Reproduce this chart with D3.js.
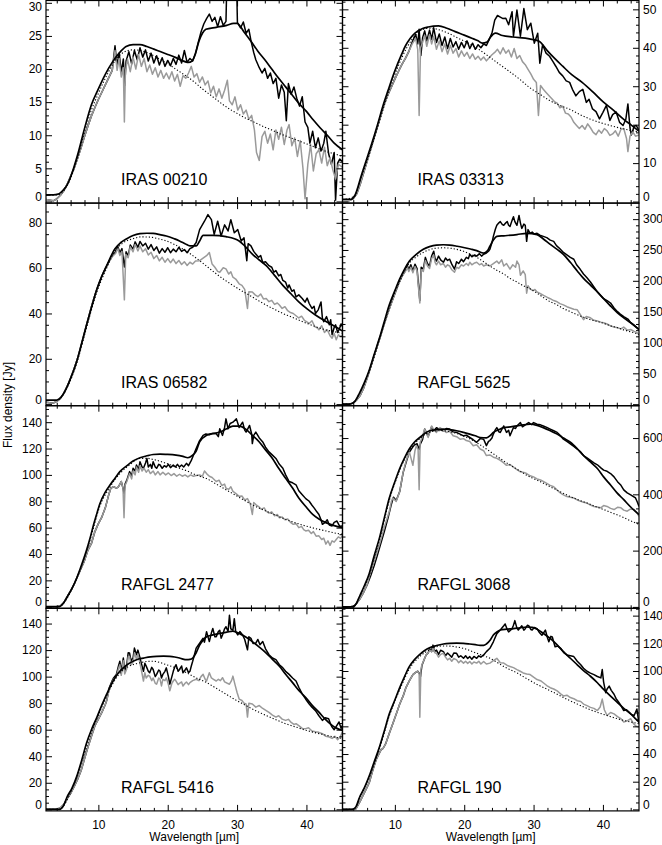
<!DOCTYPE html>
<html><head><meta charset="utf-8">
<script src="https://cdn.jsdelivr.net/npm/d3@7"></script>
<style>
body{margin:0;background:#fff}
svg text{font-family:"Liberation Sans",Arial,Helvetica,sans-serif;fill:#000}
</style></head><body>
<svg id="c" width="662" height="845"></svg>
<script>
// ---------------- DATA ----------------
const names = ["IRAS 00210","IRAS 03313","IRAS 06582","RAFGL 5625","RAFGL 2477","RAFGL 3068","RAFGL 5416","RAFGL 190"];
const xTicks = [10,20,30,40];
const yTicks1 = [0,5,10,15,20,25,30];
const yTicks2 = [0,10,20,30,40,50];
const yTicks3 = [0,20,40,60,80];
const yTicks4 = [0,50,100,150,200,250,300];
const yTicks5 = [0,20,40,60,80,100,120,140];
const yTicks6 = [0,200,400,600];
const yTicks7 = [0,20,40,60,80,100,120,140];
const yTicks8 = [0,20,40,60,80,100,120,140];

// ---- IRAS 00210 ----
const obs1 = [[2.45,0.3],[3,0.2],[3.5,0.1],[4,0.4],[4.5,0.9],[5,1.6],[5.5,2.6],[6,3.8],[6.5,5.0],[7,6.5],[7.5,8.1],[8,9.8],[8.5,11.4],[9,12.9],[9.5,14.2],[10,15.4],[10.5,16.5],[11,17.6],[11.5,18.7],[12,19.8],[12.4,23.5],[12.7,20.5],[13,22.4],[13.3,19.5],[13.6,21.5],[13.8,17.5],[14,21.2],[14.4,22.6],[14.8,20.8],[15.2,22.8],[15.6,21.4],[16,23.2],[16.4,21.8],[16.8,22.9],[17.2,21.2],[17.6,22.4],[18,20.9],[18.4,22.0],[18.8,20.6],[19.2,21.7],[19.6,20.4],[20,21.3],[20.4,20.5],[20.8,21.6],[21.2,20.7],[21.6,22.1],[22,20.9],[22.4,22.8],[22.8,21.0],[23.2,21.6],[23.6,21.2],[24,22.4],[24.4,24.0],[24.8,25.6],[25.2,26.8],[25.6,27.6],[26,28.3],[26.4,27.2],[26.8,27.8],[27.2,26.4],[27.6,27.9],[28,26.6],[28.4,27.2],[28.5,32],[29.95,32],[30.05,27.0],[30.5,26.2],[30.9,27.1],[31.3,25.4],[31.7,26.0],[32,24.3],[32.4,22.5],[32.7,21.4],[33.2,20.2],[33.6,19.4],[34,20.1],[34.4,18.6],[34.8,19.4],[35.2,17.8],[35.6,18.6],[36,15.6],[36.4,17.6],[36.8,16.5],[37.1,12.2],[37.4,17.8],[37.8,16.2],[38.2,17.3],[38.6,15.6],[39,14.4],[39.4,15.8],[39.8,12.0],[40.2,11.2],[40.5,8.8],[40.9,10.6],[41.3,8.1],[41.7,9.6],[42.1,7.6],[42.5,8.8],[42.8,10.6],[43.2,7.2],[43.6,5.6],[44,7.4],[44.2,0.2],[44.5,5.8],[44.8,6.4],[45.2,6.0]];
const sub1 = [[2.45,0.3],[3,0.2],[3.5,0.1],[4,0.4],[4.5,0.9],[5,1.6],[5.5,2.6],[6,3.8],[6.5,5.0],[7,6.5],[7.5,8.1],[8,9.8],[8.5,11.4],[9,12.9],[9.5,14.2],[10,15.4],[10.5,16.5],[11,17.6],[11.5,18.7],[12,19.8],[12.4,22.8],[12.7,19.8],[13,21.6],[13.3,18.8],[13.6,20.2],[13.75,12.0],[13.9,19.6],[14.2,21.5],[14.6,19.6],[15,21.8],[15.4,20.0],[15.8,22.2],[16.2,20.4],[16.6,21.6],[17,19.6],[17.4,20.6],[17.8,19.2],[18.2,20.2],[18.6,18.8],[19,19.8],[19.4,18.6],[19.8,19.4],[20.2,18.5],[20.6,19.6],[21,18.2],[21.4,19.2],[21.8,17.4],[22.2,19.0],[22.6,18.6],[23,19.4],[23.4,20.4],[23.8,18.8],[24.2,19.3],[24.6,18.0],[25,18.8],[25.4,17.6],[25.8,18.2],[26.2,16.4],[26.6,17.4],[27,15.8],[27.4,17.0],[27.8,15.6],[28.2,16.8],[28.6,18.3],[28.9,15.2],[29.3,14.6],[29.7,15.8],[30.1,13.8],[30.5,14.6],[30.9,13.2],[31.3,13.8],[31.7,12.4],[32.1,13.0],[32.5,10.8],[32.8,7.4],[33.2,6.2],[33.6,9.8],[34,10.6],[34.4,8.8],[34.8,10.2],[35.2,7.8],[35.6,10.8],[36,9.4],[36.4,11.2],[36.8,8.6],[37.2,10.8],[37.5,11.6],[37.9,8.4],[38.3,9.6],[38.7,6.8],[39.1,9.2],[39.5,5.0],[39.8,0.4],[40.2,5.6],[40.6,8.6],[41,4.6],[41.4,7.2],[41.8,7.8],[42.2,5.8],[42.6,8.2],[43,5.4],[43.4,6.6],[43.8,4.8],[44.2,3.4],[44.6,5.6],[45.2,5.2]];
const model1 = [[2.45,1.0],[3.5,1.0],[4.2,1.1],[5,1.8],[5.5,2.5],[6,3.7],[7,7.0],[8,11.0],[9,14.6],[10,17.0],[11,19.2],[12,21.0],[13,22.4],[14,23.4],[15,23.7],[16,23.7],[17,23.4],[18,23.0],[19,22.6],[20,22.2],[21,21.8],[22,21.3],[23,21.0],[23.5,21.2],[24,22.3],[24.5,24.2],[25,25.4],[25.5,26.0],[27,26.3],[28.5,26.6],[29.5,26.9],[30,26.9],[31,25.6],[32,24.2],[33,22.7],[34,21.4],[35,20.0],[36,18.6],[37,17.3],[38,16.0],[39,14.7],[40,13.6],[41,12.3],[42,11.1],[43,10.0],[44,8.8],[45.2,7.8]];
const cont1 = [[2.45,0.9],[4.2,1.0],[5,1.6],[6,3.5],[7,6.6],[8,10.4],[9,13.8],[10,16.3],[11,18.6],[12,20.6],[13,22.0],[14,22.7],[15,22.9],[16,22.8],[17,22.5],[18,22.0],[19,21.4],[20,20.8],[21,20.1],[22,19.4],[23,18.7],[24,17.9],[25,17.0],[26,16.2],[27,15.4],[28,14.6],[29,13.9],[30,13.3],[31,12.7],[32,12.2],[33,11.7],[34,11.2],[35,10.8],[36,10.3],[37,9.9],[38,9.5],[39,9.1],[40,8.7],[41,8.3],[42,7.9],[43,7.5],[44,7.2],[45.2,6.8]];

// ---- IRAS 03313 ----
const obs2 = [[2.45,0.3],[3,0.2],[3.5,0.3],[4,0.8],[4.5,2.0],[5,4.5],[5.5,7.5],[6,10.5],[6.5,13.5],[7,16.5],[7.5,19.5],[8,22.5],[8.5,25.5],[9,27.8],[9.5,29.8],[10,31.8],[10.5,33.8],[11,35.6],[11.5,37.2],[12,39.0],[12.5,41.5],[13,43.5],[13.3,41.0],[13.5,44.8],[13.75,38],[14,42.6],[14.3,44.4],[14.6,41.8],[15,44.6],[15.3,42.2],[15.6,45.2],[16,41.4],[16.4,43.6],[16.8,40.6],[17.2,42.8],[17.6,39.8],[18,42.4],[18.4,40.2],[18.8,41.6],[19.2,39.6],[19.6,41.4],[20,40.0],[20.4,41.8],[20.8,39.8],[21.2,41.2],[21.6,39.6],[22,40.8],[22.4,40.0],[22.8,41.0],[23.2,40.6],[23.6,42.2],[24,43.8],[24.4,47.2],[24.8,48.4],[25.2,48.0],[25.6,47.6],[26,47.7],[26.4,46.0],[26.9,49.4],[27.1,43.0],[27.6,49.8],[28.1,43.0],[28.6,50.2],[29.1,44.7],[29.6,46.4],[30.1,41.2],[30.6,43.8],[30.9,36.0],[31.3,40.8],[31.8,38.6],[32.3,37.8],[32.8,36.4],[33.2,35.2],[33.7,33.6],[34.2,32.7],[34.7,31.4],[35.2,31.0],[35.6,29.2],[36.1,27.5],[36.6,28.6],[37.1,29.2],[37.6,25.8],[38,26.6],[38.5,24.1],[39,23.4],[39.5,21.5],[40,23.2],[40.5,25.0],[41,21.1],[41.4,22.6],[41.9,23.3],[42.4,20.6],[42.9,19.8],[43.3,21.4],[43.6,25.4],[43.9,19.2],[44.1,17.3],[44.5,19.6],[44.8,19.8],[45.2,18.5]];
const sub2 = [[2.45,0.3],[3,0.2],[3.5,0.3],[4,0.8],[4.5,2.0],[5,4.5],[5.5,7.5],[6,10.5],[6.5,13.5],[7,16.5],[7.5,19.5],[8,22.5],[8.5,25.5],[9,27.8],[9.5,29.8],[10,31.8],[10.5,33.8],[11,35.6],[11.5,37.2],[12,39.0],[12.5,41.0],[13,42.4],[13.3,39.5],[13.5,22.4],[13.7,40.0],[14,41.4],[14.3,43.2],[14.6,40.4],[15,43.4],[15.3,41.0],[15.6,43.0],[16,39.6],[16.4,41.8],[16.8,39.0],[17.2,41.0],[17.6,38.4],[18,40.6],[18.4,38.6],[18.8,39.8],[19.2,37.6],[19.6,39.2],[20,37.8],[20.4,38.8],[20.8,37.2],[21.2,38.4],[21.6,37.0],[22,37.8],[22.4,36.8],[22.8,37.6],[23.2,36.6],[23.6,37.4],[24,38.2],[24.4,38.8],[24.8,39.6],[25.2,38.4],[25.6,40.0],[26,38.6],[26.4,39.4],[26.8,37.6],[27.2,39.8],[27.6,37.2],[28,38.0],[28.4,36.4],[28.8,35.6],[29.2,34.4],[29.6,33.2],[30,31.8],[30.4,31.0],[30.7,22.4],[31,30.2],[31.4,29.2],[31.8,28.4],[32.2,27.6],[32.6,26.8],[33,26.0],[33.4,25.6],[33.8,24.4],[34.2,24.8],[34.6,23.0],[35,22.8],[35.4,22.0],[35.8,20.6],[36.2,19.8],[36.6,19.0],[37,19.8],[37.4,18.8],[37.8,20.2],[38.2,19.2],[38.6,18.0],[39,17.4],[39.4,18.6],[39.8,17.8],[40.2,19.0],[40.6,18.4],[41,17.2],[41.4,17.6],[41.8,18.4],[42.2,17.0],[42.6,18.8],[43,19.0],[43.4,16.4],[43.6,13.0],[43.9,17.0],[44.3,18.1],[44.7,17.0],[45.2,17.3]];
const model2 = [[2.45,0.6],[3.7,0.6],[4.2,1.5],[5.2,7.0],[6,11.4],[6.6,14.7],[7.5,20.0],[8.3,25.0],[9,28.8],[10,34.0],[11,38.4],[11.5,40.4],[12.2,42.4],[12.9,43.8],[14,45.0],[14.8,45.4],[16.3,45.7],[17.5,45.1],[18.7,44.2],[20,43.3],[21.1,42.5],[22,41.8],[22.6,41.2],[23.3,41.5],[23.8,42.8],[24.5,43.8],[25.5,43.2],[27,42.8],[29.4,42.3],[30.8,41.7],[32,39.2],[33,37.3],[34.2,35.2],[35.5,33.0],[37,31.0],[38.5,28.6],[40,26.0],[41.5,23.8],[43,21.4],[44,20.0],[45.2,18.3]];
const cont2 = [[2.45,0.5],[4.2,1.4],[5.2,6.6],[6.6,14.0],[8.3,24.0],[10,33.0],[11,37.4],[12.4,42.0],[13.5,44.2],[14.5,45.0],[15.3,45.1],[16.5,44.6],[17.7,43.8],[19,42.6],[20.6,41.2],[22,39.7],[23.5,37.8],[25,35.8],[26.4,34.0],[28,31.8],[29.4,29.7],[31,27.8],[32.3,26.3],[33.8,25.0],[35.2,24.0],[36.6,22.7],[38.1,21.5],[39.5,20.6],[41,19.8],[42.5,19.1],[44,18.5],[45.2,18.1]];

// ---- IRAS 06582 ----
const obs3 = [[2.45,0.8],[3,0.6],[3.5,0.5],[4,1.2],[4.5,2.4],[5,4.6],[5.5,7.8],[6,11.4],[6.5,15.6],[7,20.2],[7.5,25.6],[8,31.4],[8.5,37.2],[9,43.0],[9.5,48.0],[10,52.4],[10.5,56.4],[11,59.8],[11.5,62.8],[12,65.4],[12.5,67.2],[12.8,69.6],[13.1,66.8],[13.4,68.6],[13.75,60.5],[14,67.2],[14.3,65.4],[14.6,70.2],[15,68.4],[15.3,71.6],[15.7,69.2],[16,71.8],[16.4,69.8],[16.8,71.0],[17.2,68.4],[17.6,70.4],[18,67.8],[18.4,69.4],[18.8,66.6],[19.2,68.6],[19.6,67.0],[20,69.0],[20.4,66.8],[20.8,68.4],[21.2,67.2],[21.6,69.2],[22,67.4],[22.4,68.2],[22.8,66.8],[23.2,68.6],[23.6,69.2],[24.1,71.3],[24.6,77.0],[25.3,80.7],[25.8,83.6],[26.3,81.4],[26.7,74.9],[27.2,80.7],[27.7,74.2],[28.2,79.1],[28.7,76.4],[29.1,81.4],[29.6,75.6],[30.1,77.0],[30.6,72.0],[31,73.4],[31.4,63.3],[31.6,70.8],[32,69.8],[32.4,67.4],[32.7,66.2],[33.1,64.8],[33.4,65.6],[33.7,62.5],[34.1,62.8],[34.6,61.1],[35,60.4],[35.3,58.2],[35.6,58.9],[36,56.6],[36.3,57.2],[36.6,54.6],[37,53.8],[37.3,51.2],[37.5,52.6],[37.9,49.8],[38.2,50.4],[38.5,47.3],[38.9,48.2],[39.4,46.6],[39.8,45.0],[40.1,46.8],[40.4,44.4],[40.8,42.2],[41.1,43.2],[41.3,40.0],[41.7,41.6],[42.1,45.1],[42.3,38.0],[42.5,36.4],[42.9,38.6],[43.3,35.0],[43.5,37.2],[43.7,30.6],[44,33.8],[44.2,35.0],[44.5,31.6],[44.7,32.8],[45,35.4],[45.2,34.2]];
const sub3 = [[2.45,0.8],[3,0.6],[3.5,0.5],[4,1.2],[4.5,2.4],[5,4.6],[5.5,7.8],[6,11.4],[6.5,15.6],[7,20.2],[7.5,25.6],[8,31.4],[8.5,37.2],[9,43.0],[9.5,48.0],[10,52.4],[10.5,56.4],[11,59.8],[11.5,62.8],[12,65.0],[12.5,66.6],[12.8,68.8],[13.1,65.6],[13.4,67.4],[13.75,46.0],[13.95,66.0],[14.3,64.6],[14.6,69.4],[15,67.2],[15.3,70.4],[15.7,67.6],[16,69.8],[16.4,67.2],[16.8,68.6],[17.2,65.8],[17.6,67.0],[18,64.2],[18.4,65.6],[18.8,63.2],[19.2,64.8],[19.6,62.6],[20,64.2],[20.4,62.4],[20.8,64.0],[21.2,62.0],[21.6,63.4],[22,61.6],[22.4,62.8],[22.8,61.2],[23.2,62.6],[23.6,61.8],[24,63.2],[24.6,63.3],[25.1,64.4],[25.6,65.5],[26,66.9],[26.4,61.8],[26.8,60.4],[27.2,58.6],[27.5,58.2],[28,60.2],[28.4,59.7],[28.8,57.4],[29.1,58.4],[29.4,56.0],[29.8,55.2],[30.3,53.1],[30.7,52.4],[31.1,50.6],[31.5,42.2],[31.7,49.6],[32.2,49.5],[32.6,48.2],[33,47.4],[33.4,48.6],[33.8,46.4],[34.2,46.6],[34.6,45.2],[35,45.8],[35.4,44.0],[35.8,44.6],[36.1,43.7],[36.5,42.2],[36.9,43.0],[37.3,41.2],[37.7,40.4],[38.1,40.0],[38.5,39.0],[38.9,38.0],[39.3,38.8],[39.7,37.0],[40,36.4],[40.4,35.6],[40.8,36.8],[41.2,34.2],[41.6,33.6],[41.8,32.8],[42.2,34.6],[42.6,31.6],[43,32.8],[43.4,30.2],[43.7,29.1],[44,31.2],[44.3,28.4],[44.6,30.6],[45,29.8],[45.2,30.6]];
const model3 = [[2.45,1.8],[4.0,1.8],[4.6,3.0],[5.45,7.4],[6.2,13.0],[6.9,19.0],[7.6,27.0],[8.3,35.0],[9,42.6],[9.8,50.9],[10.5,56.5],[11.2,61.1],[12.4,68.6],[13.2,71.2],[14.1,73.0],[15,74.4],[16,75.2],[17,75.4],[17.9,75.3],[19,74.7],[19.8,74.2],[21,72.9],[21.7,72.0],[22.5,70.8],[23.2,69.8],[24.1,69.8],[24.6,72.0],[25.1,74.5],[26.5,74.5],[28.4,73.9],[30.3,72.0],[31.2,69.5],[32.2,66.2],[33.2,63.6],[34.2,61.1],[35.4,56.8],[36.6,52.4],[37.8,48.6],[38.9,45.1],[40.1,42.0],[41.3,39.3],[42.5,37.0],[43.7,35.0],[45.2,32.2]];
const cont3 = [[2.45,1.6],[4.0,1.6],[4.6,2.8],[5.45,7.0],[6.9,18.2],[8.3,33.8],[9.8,49.6],[11.2,60.0],[12.4,67.6],[13.5,71.0],[15,73.0],[16.2,73.8],[17.4,73.7],[18.6,73.0],[19.8,72.0],[21,70.4],[22.2,68.4],[23.4,66.0],[24.6,63.3],[25.8,60.4],[27,57.5],[28.2,54.8],[29.4,52.4],[30.6,50.1],[31.8,48.0],[33,45.8],[34.2,43.7],[35.4,41.8],[36.6,40.0],[37.8,38.5],[38.9,37.1],[40.1,35.6],[41.3,34.2],[42.6,32.9],[43.9,32.0],[45.2,31.3]];

// ---- RAFGL 5625 ----
const obs4 = [[2.45,0],[3,0],[3.5,0.5],[4,2],[4.5,7],[5,14],[5.5,26],[6,42],[6.5,60],[7,78],[7.5,96],[8,113],[8.5,131],[9,148],[9.5,164],[10,179],[10.5,194],[11,207],[11.5,216],[11.8,225],[12,218],[12.3,226],[12.6,216],[12.9,227],[13.2,220],[13.6,168],[13.8,222],[14.1,219],[14.4,238],[14.7,228],[15,224],[15.3,240],[15.6,248],[15.8,236],[16,232],[16.3,240],[16.6,234],[17,230],[17.3,237],[17.6,233],[17.9,235],[18.2,227],[18.6,219],[18.9,231],[19.2,228],[19.6,235],[19.9,231],[20.3,238],[20.6,236],[20.8,243],[21.1,239],[21.5,242],[21.8,240],[22.2,244],[22.5,240],[22.8,243],[23.2,245],[23.5,248],[23.7,251],[24,262],[24.2,272],[24.5,284],[24.7,290],[25,294],[25.2,296],[25.5,291],[25.7,290],[26,294],[26.2,296],[26.4,290],[26.6,288],[26.9,298],[27.1,304],[27.3,296],[27.6,290],[27.9,306],[28.1,294],[28.3,285],[28.6,292],[28.8,290],[29,264],[29.2,283],[29.5,277],[29.8,279],[30.1,276],[30.5,277],[30.9,274],[31.4,272],[31.9,270],[32.4,266],[32.9,264],[33.3,257],[33.8,252],[34.3,246],[34.8,242],[35.3,238],[35.8,235],[36.2,226],[36.7,219],[37.2,211],[37.7,205],[38.2,198],[38.7,190],[39.2,182],[39.6,177],[40.1,171],[40.6,168],[41.1,164],[41.6,156],[42.1,150],[42.5,146],[43,142],[43.3,140],[43.6,138],[44,132],[44.4,129],[44.8,125],[45.2,121]];
const sub4 = [[2.45,0],[3,0],[3.5,0.5],[4,2],[4.5,7],[5,14],[5.5,26],[6,42],[6.5,60],[7,78],[7.5,96],[8,113],[8.5,131],[9,148],[9.5,164],[10,179],[10.5,194],[11,207],[11.5,215],[11.8,222],[12,215],[12.3,222],[12.6,213],[12.9,223],[13.2,216],[13.6,164],[13.8,218],[14.1,215],[14.4,233],[14.7,224],[15,220],[15.3,236],[15.6,242],[15.8,230],[16,226],[16.3,232],[16.6,226],[17,228],[17.3,222],[17.6,226],[17.9,224],[18.2,218],[18.6,214],[18.9,222],[19.2,220],[19.6,226],[19.9,224],[20.3,228],[20.6,225],[20.8,230],[21.1,226],[21.5,229],[21.8,230],[22.2,226],[22.5,228],[22.8,224],[23.2,226],[23.7,224],[24.2,228],[24.7,232],[25,228],[25.4,234],[25.7,224],[26.1,228],[26.6,219],[27,226],[27.4,222],[27.6,232],[27.9,226],[28.1,209],[28.5,216],[28.8,210],[29,180],[29.2,192],[29.5,187],[29.9,184],[30.2,186],[30.5,182],[31,179],[31.5,176],[32,173],[32.4,171],[32.9,168],[33.4,166],[33.8,163],[34.3,161],[34.8,158],[35.3,156],[35.8,154],[36.3,153],[36.7,146],[37.2,137],[37.6,142],[38.2,140],[38.7,136],[39.2,135],[39.7,133],[40.1,132],[40.6,130],[41.1,127],[41.6,125],[42.1,124],[42.6,122],[43,125],[43.5,120],[44,121],[44.5,118],[44.9,116],[45.2,113]];
const model4 = [[2.45,0],[3.5,0],[4.2,4],[4.9,18],[5.6,35],[6.3,55],[7,80],[7.8,108],[8.5,135],[9.2,161],[10,184],[10.7,203],[11.4,219],[12.1,232],[13,242],[14.1,251],[15,255.5],[16,258],[17,258.5],[17.9,258],[19,256],[19.9,254],[20.9,251.5],[21.8,249],[22.8,245],[23.3,248],[23.7,256],[24.2,266],[24.7,272],[25.7,273],[27.6,275],[29,277],[30.5,275],[31.5,267],[32.4,259],[33.4,251],[34.3,243],[35.3,230],[36.3,216],[37.2,204],[38.2,193],[39.2,182],[40.1,171],[41.1,159],[42.1,148],[43,140],[44,132],[45.2,121]];
const cont4 = [[2.45,0],[3.5,0],[4.2,4],[4.9,17],[6.3,53],[7.8,105],[9.2,157],[10.7,199],[12.1,229],[13,238],[14.1,246],[15,250.5],[16,253],[17,253.5],[17.9,253],[18.9,251],[19.9,248],[20.9,243],[21.8,238],[22.8,231],[23.7,224],[24.7,217],[25.7,211],[26.6,204],[27.6,198],[28.5,192],[29.5,187],[30.5,180],[31.4,173],[32.4,166],[33.4,161],[34.3,155],[35.3,150],[36.3,145],[37.2,141],[38.2,137],[39.2,134],[40.1,131],[41.1,127],[42.1,124],[43.1,120],[44.1,117],[45.2,113]];

// ---- RAFGL 2477 ----
const obs5 = [[2.45,0],[3,0],[3.5,0],[4,0],[4.5,0.5],[5,3],[5.5,7.5],[6,12],[6.5,17],[7,23],[7.5,29],[8,35],[8.5,43],[9,48],[9.5,57],[10,63],[10.5,68],[11,75],[11.5,85],[11.8,90],[12.2,91],[12.6,90],[12.9,91],[13.3,95],[13.55,90],[13.7,86],[13.85,93],[14.1,96],[14.5,102.5],[14.8,99],[15,105],[15.3,103],[15.5,107.5],[15.8,104],[16,110],[16.3,106],[16.5,105],[16.8,109],[17,112.5],[17.2,106],[17.5,108],[17.7,105],[17.9,110],[18.2,106],[18.4,105],[18.7,108],[18.9,107.5],[19.2,105],[19.5,107],[19.8,106],[20.1,108],[20.4,105.5],[20.8,107.5],[21.1,106],[21.4,108],[21.7,106],[22,107.5],[22.3,106],[22.7,108.75],[23,107],[23.4,111],[23.8,116],[24.1,120],[24.6,126],[25.1,130],[25.5,131],[26,130.5],[26.5,131.5],[27,131.25],[27.3,129],[27.5,135],[27.9,130],[28.2,136],[28.4,142.5],[28.7,135],[29,139],[29.4,140],[29.9,142.5],[30.3,136],[30.8,140],[31.1,134],[31.3,132.5],[31.8,137.5],[32.1,131],[32.2,123.75],[32.4,130],[32.7,132.5],[33.2,128],[33.7,125],[34.1,121],[34.6,117.5],[35.1,115],[35.6,112.5],[36.1,108],[36.6,105],[37,100],[37.5,95],[38,94],[38.5,92.5],[38.9,88],[39.4,85],[39.9,82],[40.4,80],[40.8,77],[41.1,75],[41.5,72],[41.8,70],[42.1,66],[42.3,62.5],[42.7,64],[43,66],[43.3,62],[43.7,61.25],[44,64],[44.4,65],[44.8,61],[45.2,61.25]];
const sub5 = [[2.45,0],[3,0],[3.5,0],[4,0],[4.5,0.5],[5,3],[5.5,7.5],[6,12],[6.5,17],[7,23],[7.5,29],[8,35],[8.5,43],[9,48],[9.5,57],[10,63],[10.5,68],[11,75],[11.5,85],[11.8,90],[12.2,91],[12.6,90],[12.9,91],[13.3,95],[13.55,90],[13.7,67.5],[13.85,92],[14.1,95],[14.5,101],[14.8,97],[15,103],[15.3,100],[15.5,106],[15.8,102],[16,107],[16.3,103],[16.6,105],[16.9,102],[17.2,104],[17.5,101],[17.9,103],[18.2,100],[18.6,102.5],[18.9,100],[19.3,102],[19.7,100],[20.1,101.5],[20.5,99.5],[20.9,101],[21.3,99],[21.7,100.5],[22.1,99],[22.5,100],[22.9,98.5],[23.3,100],[23.7,99],[24.1,99.5],[24.6,100],[25,99],[25.3,103],[25.6,101],[26,99],[26.4,98],[26.8,96],[27,95],[27.4,96],[27.8,92],[28.2,93],[28.4,90],[28.8,89],[29.1,91],[29.4,87.5],[29.8,86],[30.3,83.75],[30.7,84],[31.1,81],[31.5,82],[31.9,78],[32.2,70],[32.4,79],[32.7,77.5],[33.1,76],[33.5,74],[33.9,75],[34.2,72.5],[34.6,71],[35,72],[35.4,69],[35.8,70],[36.1,67.5],[36.5,68],[36.9,66],[37.3,66.5],[37.7,64],[38.1,62.5],[38.5,63],[38.9,60],[39.3,61],[39.6,58.5],[39.9,57.5],[40.3,58],[40.7,55.5],[41,57],[41.4,53.5],[41.8,53.75],[42.2,51],[42.5,52],[42.8,47.5],[43.1,50],[43.4,46.5],[43.7,50],[44,49],[44.3,51],[44.6,53],[44.9,52],[45.2,53.75]];
const model5 = [[2.45,0],[4.3,0],[5,3],[5.45,7],[6.2,14],[6.9,22],[7.6,32],[8.3,43],[8.8,52],[9.3,62],[9.8,71],[10.2,78],[11,87],[11.7,92.5],[12.4,97.5],[13.1,102.5],[14,106.5],[15,110.5],[16,113],[17,114.5],[17.9,115.5],[18.9,115.8],[19.8,115.6],[21.2,115],[22.2,114],[22.9,113],[23.6,115],[24.1,118],[24.6,125],[25.6,130],[27.5,132.5],[28.5,135],[29.4,137],[30.3,137],[31.3,134.5],[32.2,130],[33.2,125],[34.1,119],[35.1,112.5],[36,105],[37,97.5],[38,90],[38.9,82.5],[39.9,76],[40.9,70],[41.8,66.5],[42.8,63.8],[44,61.5],[45.2,60]];
const cont5 = [[2.45,0],[4.3,0],[5,2.8],[6.2,13.5],[7.6,31],[8.8,50.5],[10.2,76],[11.7,91],[13.1,101],[14.5,107.5],[16,112.5],[17,112.6],[18,111.6],[19,110.2],[19.8,108.75],[20.8,106.8],[21.7,105],[22.7,103.2],[23.6,101],[24.6,99],[25.6,97.2],[27,93],[28.4,88.75],[29.8,84.5],[31.3,80],[32.7,76],[34.2,72.5],[35.6,69.3],[37,66.25],[38.5,63.5],[39.9,61.25],[41.3,59.3],[42.8,57.5],[44,56],[45.2,55]];

// ---- RAFGL 3068 ----
const obs6 = [[2.45,0],[3.5,0],[4.2,4],[5,30],[5.5,52],[6,78],[6.5,110],[7,145],[7.5,185],[8,228],[8.5,270],[9,315],[9.5,365],[9.8,390],[10.2,378],[10.7,410],[11.2,478],[11.7,520],[12.1,550],[12.5,565],[12.8,575],[13.2,580],[13.5,560],[13.7,580],[14,595],[14.3,632],[14.8,606],[15.3,640],[15.6,626],[16,637],[16.5,630],[17,626],[17.4,634],[17.9,632],[18.4,622],[18.9,620],[19.4,614],[19.9,608],[20.3,610],[20.8,602],[21.3,594],[21.8,585],[22.3,598],[22.8,596],[23.2,573],[23.5,588],[23.7,591],[24,600],[24.2,614],[24.5,630],[24.7,637],[25,622],[25.2,620],[25.5,634],[25.7,643],[26.1,620],[26.4,628],[26.6,608],[26.9,626],[27.1,637],[27.4,634],[27.6,643],[28.1,655],[28.4,640],[28.6,643],[29,650],[29.3,655],[29.7,648],[30,655],[30.5,649],[31,647],[31.4,643],[31.9,638],[32.4,632],[32.9,626],[33.4,620],[33.9,608],[34.3,596],[34.8,588],[35.3,579],[35.8,570],[36.3,561],[36.8,550],[37.2,538],[37.7,530],[38.2,521],[38.7,512],[39.2,505],[39.7,494],[40.1,486],[40.6,482],[41.1,474],[41.6,462],[42.1,445],[42.6,432],[43,416],[43.5,405],[44,398],[44.4,392],[44.7,387],[45,370],[45.2,357]];
const sub6 = [[2.45,0],[3.5,0],[4.2,4],[5,30],[5.5,52],[6,80],[6.3,107],[7,160],[7.8,223],[8.5,285],[9.2,340],[9.5,375],[9.7,387],[10.2,375],[10.7,410],[11.2,480],[11.7,525],[12.1,550],[12.6,503],[12.9,555],[13.1,573],[13.35,560],[13.5,416],[13.65,585],[13.9,600],[14.3,632],[14.8,602],[15.3,643],[15.6,630],[16,620],[16.5,637],[17,628],[17.4,620],[17.9,624],[18.4,608],[18.9,605],[19.4,596],[19.9,598],[20.3,591],[20.8,588],[21.3,573],[21.8,576],[22.3,561],[22.8,555],[23.2,538],[23.7,540],[24.2,532],[24.7,528],[25.2,521],[25.7,512],[26.1,503],[26.6,506],[27.1,497],[27.6,488],[28.1,480],[28.6,478],[29,474],[29.5,466],[30,462],[30.5,455],[31,451],[31.4,446],[31.9,439],[32.4,432],[32.9,427],[33.4,415],[33.9,404],[34.3,398],[34.8,392],[35.3,390],[35.8,387],[36.3,380],[36.8,375],[37.2,372],[37.7,369],[38.2,362],[38.7,357],[39.2,355],[39.7,352],[40.1,360],[40.6,357],[41.1,350],[41.6,346],[42.1,354],[42.6,352],[43,344],[43.5,340],[44,348],[44.5,346],[44.9,335],[45.2,322]];
const model6 = [[2.45,0],[3.9,0],[4.4,10],[4.9,37],[5.6,75],[6.3,118],[7,180],[7.8,247],[8.5,318],[9.2,387],[10,445],[10.7,492],[11.4,530],[12.1,562],[12.8,585],[13.6,602],[14.3,616],[15,626],[16,630],[17,632],[17.9,630],[18.9,626],[19.9,620],[20.8,614],[21.6,608],[22.3,602],[23.2,601],[23.8,610],[24.2,620],[25,630],[25.7,637],[26.7,640],[27.6,643],[28.5,647],[29.5,649],[30.5,645],[31.4,637],[32.4,626],[33.4,614],[34.3,600],[35.3,585],[36.3,562],[37.2,538],[38.2,515],[39.2,492],[40.1,462],[41.1,433],[42,406],[43,381],[44,355],[45.2,328]];
const cont6 = [[2.45,0],[3.9,0],[4.4,9],[4.9,35],[6.3,113],[7.8,240],[9.2,378],[10.7,485],[12.1,556],[13.6,598],[14.5,615],[15.5,624],[16.5,626],[17.4,625],[18.4,620],[19.4,612],[20.3,603],[21.3,591],[22.3,576],[23.2,561],[24.2,544],[25.2,527],[26.1,512],[27.1,497],[28.1,482],[29,468],[30,456],[31,445],[31.9,433],[32.9,421],[34.1,406],[35.3,392],[36.5,380],[37.7,369],[38.9,357],[40.1,346],[41.3,334],[42.6,322],[43.9,307],[45.2,293]];

// ---- RAFGL 5416 ----
const obs7 = [[2.45,0],[3,0],[3.5,0],[4,0],[4.5,1],[5,3.5],[5.5,8],[6,12],[6.5,17],[7,22.5],[7.5,29],[8,38],[8.5,47],[9,55],[9.5,63],[10,68],[10.5,73],[11,79],[11.2,82],[11.6,92],[12,97],[12.2,99],[12.6,101.7],[12.9,108],[13.1,111.6],[13.3,104],[13.6,114],[13.8,104],[14.1,109],[14.3,118],[14.5,117.8],[14.7,112],[15,114],[15.2,121.5],[15.5,116.5],[15.7,120],[16,114],[16.2,110],[16.5,104],[16.7,110],[16.9,107.9],[17.2,104],[17.4,102.9],[17.7,107],[17.9,105.4],[18.2,100],[18.4,101.7],[18.7,105],[18.9,104],[19.1,99],[19.3,101.7],[19.6,104],[19.8,106.6],[20.1,100],[20.3,94.3],[20.6,100],[20.8,104],[21,107],[21.2,109],[21.5,104],[21.7,105.4],[22,108],[22.2,102.9],[22.5,105],[22.7,106.6],[23,103],[23.2,104],[23.4,108],[23.6,111.6],[24.1,121.5],[24.6,125.2],[25.1,128.9],[25.3,126],[25.6,133.9],[26,126.4],[26.3,133],[26.5,136.3],[26.8,130],[27,130],[27.3,134],[27.5,135],[27.7,129],[27.9,131.4],[28.2,136],[28.4,137.6],[28.7,134],[28.9,146.2],[29.1,136],[29.4,135],[29.6,143.7],[29.8,134],[30.1,131.4],[30.4,134],[30.8,131.4],[31.1,128],[31.5,120.2],[31.7,130],[32,128.9],[32.3,125],[32.7,125.2],[33,128],[33.3,124],[33.7,126.4],[34.1,121],[34.6,116.5],[35.1,114],[35.6,112.8],[36.1,109],[36.6,106.6],[37,104],[37.5,101.7],[38,99],[38.5,96.7],[38.9,92],[39.4,86.8],[39.9,83],[40.4,79.4],[40.8,77],[41.3,74.4],[41.8,70.5],[42.3,67],[42.7,69],[43.2,68.3],[43.5,64],[43.7,62],[44,60],[44.3,62.5],[44.7,65.8],[45,61],[45.2,63.3]];
const sub7 = [[2.45,0],[3,0],[3.5,0],[4,0],[4.5,1],[5,3.5],[5.5,8],[6,12],[6.5,17],[7,22.5],[7.5,29],[8,38],[8.5,47],[9,55],[9.5,63],[10,68],[10.5,73],[11,79],[11.2,82],[11.6,91],[12,96],[12.2,98],[12.6,100],[12.9,106],[13.1,109],[13.3,101],[13.6,112],[13.8,102],[14.1,106],[14.3,115],[14.5,115],[14.7,109],[15,111],[15.2,118],[15.5,113],[15.7,117],[16,110],[16.2,105],[16.5,96.7],[16.7,103],[16.9,99],[17.2,101],[17.4,100.4],[17.7,97],[17.9,99],[18.2,95],[18.4,94.3],[18.7,99],[18.9,98],[19.1,93],[19.3,98],[19.6,97],[19.8,99],[20.1,94],[20.3,89.3],[20.6,95],[20.8,96.7],[21,98],[21.2,96.7],[21.5,94],[21.7,95],[22,96],[22.2,93],[22.5,95],[22.7,96],[23,94],[23.2,95.5],[23.6,97],[24.1,98],[24.5,97],[24.8,100],[25.1,101.7],[25.4,98],[25.6,96.7],[26,102.9],[26.3,99],[26.6,98],[27,96.7],[27.3,98],[27.6,97],[27.9,99.2],[28.2,96],[28.6,95],[28.9,94.3],[29.2,97],[29.4,100.4],[29.7,94],[30,88],[30.3,83.1],[30.7,82],[31,80],[31.3,79.4],[31.5,69.5],[31.7,80],[32.2,79.4],[32.7,77],[33.2,78.2],[33.7,76],[34.2,74.4],[34.6,73],[35.1,71],[35.6,69.5],[36,70.5],[36.5,68],[37,67],[37.4,67.8],[37.8,65.5],[38.2,64],[38.5,64.5],[38.9,63],[39.4,61],[39.9,60.8],[40.3,61.5],[40.8,59],[41.3,58.4],[41.8,58],[42.3,57],[42.8,55],[43.3,54.5],[43.7,53.4],[44.1,55],[44.5,52.5],[44.9,55],[45.2,58.4]];
const model7 = [[2.45,0],[4.4,0],[5,3],[5.45,8.9],[6.2,16],[6.9,25],[7.6,37],[8.3,50],[9,60],[9.8,69.5],[10.5,78.5],[11.2,86.8],[11.8,93.5],[12.4,99.2],[13,103.5],[13.6,106.6],[14.3,109.5],[15,111.6],[15.8,113.3],[16.5,114],[17.5,114.9],[18.4,115.3],[19.4,115.5],[20.3,115.3],[21,114.8],[21.7,114],[22.2,113.2],[22.7,112.8],[23.2,113],[23.6,114],[24.1,118],[24.6,123.8],[25.1,127.5],[25.6,130],[26.5,131.5],[27.5,132.6],[28.5,133.5],[29.4,134.3],[30.3,132.6],[31.2,130],[32.2,126.4],[33.2,122.3],[34.2,117.8],[35.1,113],[36.1,107.9],[37,101.8],[38,95.5],[38.9,89.6],[39.9,84.3],[40.8,78.5],[41.8,73.2],[42.7,68],[43.7,63.3],[44.4,61],[45.2,59.6]];
const cont7 = [[2.45,0],[4.4,0],[5,2.8],[6.2,15],[7.6,35.5],[9,58],[10.5,77],[11.8,92],[13,102],[14.3,107.5],[15.2,109.4],[16,110.4],[17,111.4],[17.9,111.6],[18.9,110.6],[19.8,109],[20.8,107.3],[21.7,105.4],[22.7,103],[23.6,100.4],[24.6,97.9],[25.6,95.5],[27,91.2],[28.4,86.8],[29.8,82.4],[31.3,78.2],[32.7,74.3],[34.2,70.7],[35.6,67.5],[37,64.5],[38.5,62],[39.9,59.6],[41.4,57.6],[42.8,55.9],[44,54.5],[45.2,53.4]];

// ---- RAFGL 190 ----
const obs8 = [[2.45,0],[3.5,0],[4,0],[4.4,0.5],[5,6],[5.5,11],[6,16],[6.3,19.3],[6.8,28],[7.3,35.9],[7.7,40],[8,43],[8.3,44],[8.7,47.7],[9.2,55],[9.7,61.9],[10.2,69],[10.7,76.1],[11.2,82],[11.6,88],[12.1,93],[12.6,97.4],[13,99],[13.3,99.8],[13.55,98],[13.7,96],[13.9,104],[14.2,108],[14.5,111.6],[14.8,113],[15,116],[15.3,114],[15.5,118.7],[15.7,114],[16,115.1],[16.3,112],[16.6,115],[17,114],[17.3,111],[17.6,113],[17.9,111.6],[18.2,110],[18.5,113],[18.9,112.8],[19.2,110],[19.5,111],[19.9,109.2],[20.2,111],[20.5,109],[20.8,110.4],[21.1,108.5],[21.4,110.5],[21.8,109.2],[22.1,111],[22.4,110],[22.8,111.6],[23.2,114],[23.7,116.4],[24.2,121.1],[24.7,127],[25.2,129.6],[25.7,132.7],[25.9,134],[26.2,130],[26.4,128.2],[26.9,130.6],[27.1,133],[27.3,136.4],[27.6,131],[27.8,129.6],[28.1,131.5],[28.3,132.7],[28.6,129.5],[28.8,130.6],[29.1,133],[29.3,132.7],[29.6,130],[29.8,129.6],[30.1,131.5],[30.5,130.6],[30.8,128],[31.2,125.8],[31.5,128],[31.7,129.6],[32,124],[32.2,121.1],[32.5,125],[32.7,124.6],[33.1,117.5],[33.5,118],[33.9,116.4],[34.4,113],[34.8,111.6],[35.3,111],[35.8,110.4],[36.3,107],[36.8,104.5],[37.2,102],[37.7,99.8],[38.2,98.5],[38.7,97.4],[39.2,96],[39.7,95],[39.9,101],[40.1,92],[40.4,84.3],[40.6,87],[40.9,89.1],[41.2,86],[41.6,83.2],[41.9,80],[42.3,77.2],[42.6,75],[43,71.4],[43.4,72],[43.8,70.1],[44.1,68.5],[44.5,67.8],[44.9,72.5],[45.2,61.9]];
const sub8 = [[2.45,0],[3.5,0],[4,0],[4.4,0.5],[5,6],[5.5,11],[6,16],[6.3,19.3],[6.8,28],[7.3,35.9],[7.7,40],[8,43],[8.3,44],[8.7,47.7],[9.2,55],[9.7,61.9],[10.2,69],[10.7,76.1],[11.2,82],[11.6,88],[12.1,93],[12.6,97.4],[13,99],[13.3,99.8],[13.5,98],[13.6,66.6],[13.75,101],[13.9,104.5],[14.2,108],[14.5,111.6],[14.8,113],[15,115],[15.3,114],[15.5,116.4],[15.8,113],[16,112.8],[16.3,110],[16.6,112],[17,112.8],[17.3,110],[17.6,108],[17.9,109.2],[18.2,107],[18.5,109],[18.9,108],[19.2,106],[19.5,107.5],[19.9,105.7],[20.2,107],[20.5,105.5],[20.8,106.9],[21.1,105],[21.4,106.5],[21.8,105.7],[22.1,107],[22.4,105],[22.8,106.9],[23.2,105],[23.7,105.7],[24.2,107.5],[24.7,109.2],[25.2,106],[25.7,105.7],[26.2,104],[26.6,103.3],[27.1,102.4],[27.6,101],[28,100],[28.5,98.6],[29,97.8],[29.5,97.4],[30,95.5],[30.5,93.8],[31,93],[31.4,91.5],[31.9,89.5],[32.4,87.9],[32.9,87],[33.4,85.6],[33.9,83.5],[34.3,82],[34.8,82.5],[35.3,80.8],[35.8,80],[36.3,78.5],[36.8,78],[37.2,76.1],[37.7,75],[38.2,73.7],[38.7,73],[39.2,71.4],[39.6,74],[39.9,79.7],[40.2,72],[40.6,67.8],[41.1,70],[41.6,69],[42.1,67],[42.6,65.5],[43,63.1],[43.5,64],[44,65.5],[44.4,62],[44.8,60],[45.2,59.6]];
const model8 = [[2.45,0],[3.9,0],[4.4,2],[4.9,8.6],[5.6,15.5],[6.3,24],[7,34],[7.8,45.4],[8.5,57],[9.2,69],[10,79],[10.7,88],[11.4,96],[12.1,103.3],[12.8,108],[13.6,112],[14.3,114.8],[15,116.8],[16,118.4],[17,119.5],[17.9,120],[18.9,120.2],[19.9,120],[20.8,119.5],[21.6,119],[22.3,118.5],[22.8,118.5],[23.2,119.5],[23.7,122],[24.2,126],[24.7,128.2],[25.2,129.6],[26.1,130.2],[27.1,130.6],[28,131.2],[29,131.8],[29.8,131.5],[30.5,130.2],[31.4,127.2],[32.4,123.5],[33.4,118.8],[34.3,114],[35.3,109.2],[36.3,104.5],[37.2,100.3],[38.2,96.2],[39.2,91.5],[40.1,86.7],[41.1,81.9],[42.1,77.2],[43,73],[44,69],[44.6,66],[45.2,63]];
const cont8 = [[2.45,0],[3.9,0],[4.4,1.8],[4.9,8.2],[6.3,23],[7.8,44],[9.2,67.5],[10.7,86.5],[12.1,101.5],[13.6,110.5],[15,115.2],[16,117.5],[17,118.1],[17.9,118],[18.9,117.3],[19.9,116.4],[20.8,114.8],[21.8,112.8],[22.8,111],[23.7,109.2],[24.7,106.3],[25.7,103.3],[26.6,101],[27.6,98.6],[29,94.5],[30.5,90.3],[32,86.7],[33.4,83.2],[34.8,79.6],[36.3,76.1],[37.7,73],[39.2,70.1],[40.6,67.8],[42.1,65.5],[43.6,63.6],[45.2,61.9]];

// y ranges of each panel (data units) and tick steps
const yRanges = [[-0.25,30.35],[-0.4,52.3],[-0.7,88.7],[-2.5,326],[-1.2,152.5],[-5,715],[-1.2,151.5],[-1.1,145.3]];
const yMajor = [yTicks1,yTicks2,yTicks3,yTicks4,yTicks5,yTicks6,yTicks7,yTicks8];
const yMinorStep = [1,2,5,10,5,50,5,5];
const series = [
  [obs1,sub1,model1,cont1],[obs2,sub2,model2,cont2],[obs3,sub3,model3,cont3],[obs4,sub4,model4,cont4],
  [obs5,sub5,model5,cont5],[obs6,sub6,model6,cont6],[obs7,sub7,model7,cont7],[obs8,sub8,model8,cont8]
];

// ---------------- LAYOUT ----------------
const colX = [[46,342.5],[342.5,639]];
const rowTop = [0.5,203.1,405.7,608.3], rowH = 202.6;
const xDomain = [2.45,45.2];
const xMinor = d3.range(4,45.2,2).filter(v=>v%10!==0);
const FS = 12;

const svg = d3.select("#c");
const defs = svg.append("defs");

names.forEach((name,i)=>{
  const col = i%2, row = Math.floor(i/2);
  const [x0,x1] = colX[col];
  const y0 = rowTop[row], y1 = y0+rowH;
  const x = d3.scaleLinear().domain(xDomain).range([x0,x1]);
  const y = d3.scaleLinear().domain(yRanges[i]).range([y1,y0]);
  const [obs,sub,model,cont] = series[i];

  defs.append("clipPath").attr("id","clip"+i).append("rect")
    .attr("x",x0).attr("y",y0).attr("width",x1-x0).attr("height",rowH);

  const g = svg.append("g");
  const lg = g.append("g").attr("clip-path",`url(#clip${i})`);
  const lin = d3.line().x(d=>x(d[0])).y(d=>y(d[1]));
  const smooth = d3.line().x(d=>x(d[0])).y(d=>y(d[1])).curve(d3.curveMonotoneX);

  lg.append("path").datum(obs).attr("d",lin).attr("fill","none")
    .attr("stroke","#000").attr("stroke-width",1.5).attr("stroke-linejoin","round");
  lg.append("path").datum(sub).attr("d",lin).attr("fill","none")
    .attr("stroke","#9a9a9a").attr("stroke-width",1.5).attr("stroke-linejoin","round");
  lg.append("path").datum(cont).attr("d",smooth).attr("fill","none")
    .attr("stroke","#000").attr("stroke-width",1.1).attr("stroke-dasharray","1.2,2");
  lg.append("path").datum(model).attr("d",smooth).attr("fill","none")
    .attr("stroke","#000").attr("stroke-width",1.7);

  // axes
  const yMin = d3.range(0, yRanges[i][1], yMinorStep[i]).filter(v=>!yMajor[i].includes(v));
  const styleAx = sel => { sel.select(".domain").remove(); sel.selectAll("line").attr("stroke","#000").attr("stroke-width",1);
    sel.selectAll("text").attr("font-size",FS).attr("font-family","'Liberation Sans',Arial,Helvetica,sans-serif"); };
  const raiseZero = sel => sel.selectAll(".tick").filter(d=>d===0).select("text").attr("dy","-0.08em");
  const keepTopIn = sel => sel.selectAll(".tick text").each(function(d){
    if (y(d) < y0 + 6) d3.select(this).attr("dy","0.62em");
  });

  // left
  const aL = g.append("g").attr("transform",`translate(${x0},0)`)
    .call(d3.axisLeft(y).tickValues(yMajor[i]).tickSize(-6).tickPadding(4).tickFormat(col===0?d3.format("d"):()=>""));
  styleAx(aL); raiseZero(aL); if (row===0) keepTopIn(aL);
  g.append("g").attr("transform",`translate(${x0},0)`)
    .call(d3.axisLeft(y).tickValues(yMin).tickSize(-3).tickFormat(()=>"")).call(styleAx);
  // right
  const aR = g.append("g").attr("transform",`translate(${x1},0)`)
    .call(d3.axisRight(y).tickValues(yMajor[i]).tickSize(-6).tickPadding(4).tickFormat(col===1?d3.format("d"):()=>""));
  styleAx(aR); raiseZero(aR);
  g.append("g").attr("transform",`translate(${x1},0)`)
    .call(d3.axisRight(y).tickValues(yMin).tickSize(-3).tickFormat(()=>"")).call(styleAx);
  // bottom
  const aB = g.append("g").attr("transform",`translate(0,${y1})`)
    .call(d3.axisBottom(x).tickValues(xTicks).tickSize(-6).tickPadding(9.2).tickFormat(row===3?d3.format("d"):()=>""));
  styleAx(aB);
  g.append("g").attr("transform",`translate(0,${y1})`)
    .call(d3.axisBottom(x).tickValues(xMinor).tickSize(-3).tickFormat(()=>"")).call(styleAx);
  // top
  g.append("g").attr("transform",`translate(0,${y0})`)
    .call(d3.axisTop(x).tickValues(xTicks).tickSize(-6).tickFormat(()=>"")).call(styleAx);
  g.append("g").attr("transform",`translate(0,${y0})`)
    .call(d3.axisTop(x).tickValues(xMinor).tickSize(-3).tickFormat(()=>"")).call(styleAx);

  // frame
  g.append("rect").attr("x",x0).attr("y",y0).attr("width",x1-x0).attr("height",rowH)
    .attr("fill","none").attr("stroke","#000").attr("stroke-width",1.2);

  // name
  g.append("text").attr("x",x0+75).attr("y",y1-18).attr("font-size",16).text(name);

  if(row===3){
    g.append("text").attr("x",(x0+x1)/2).attr("y",841).attr("text-anchor","middle")
      .attr("font-size",12).text("Wavelength [\u00b5m]");
  }
});

svg.append("text").attr("transform","translate(12,405) rotate(-90)")
  .attr("text-anchor","middle").attr("font-size",12).text("Flux density [Jy]");
</script>
</body></html>
